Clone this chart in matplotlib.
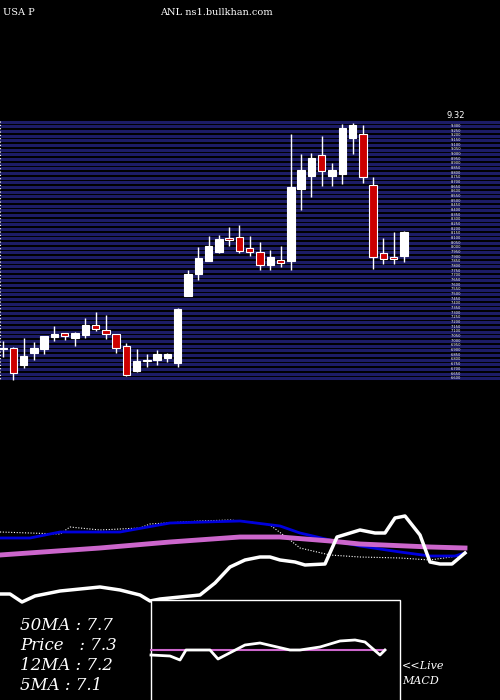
import matplotlib
matplotlib.use("Agg")
import matplotlib.pyplot as plt
import numpy as np

# candle readings (screen units: larger value = lower on the chart)
opens  = [349,348,365,353,349,337,333,338,335,325,330,334,346,371,361,360,358,363,296,274,261,252,238,237,248,252,265,260,261,189,176,155,176,174,138,134,185,253,257,256]
closes = [348,373,356,348,336,334,336,333,325,329,334,348,375,361,360,354,354,309,274,258,246,239,240,251,252,265,257,263,187,170,158,171,170,128,125,177,257,259,259,232]
highs  = [341,347,338,342,336,326,333,332,318,312,315,334,343,349,354,350,353,308,270,247,236,235,227,225,236,242,250,246,134,154,153,136,163,124,123,125,177,238,232,231]
lows   = [357,380,368,360,354,341,340,346,338,331,339,353,376,372,367,365,362,367,296,280,261,253,246,253,256,270,270,267,270,210,197,186,186,184,154,183,269,264,264,262]

# indicator readings (lower panel units)
dot_x = [0,60,70,100,140,150,200,230,250,270,290,300,330,360,400,430,465]
dot_y = [532,534,527,530,528,524,521,520,522,525,540,548,555,557,558,560,555]
blue_x = [0,30,60,120,170,240,280,300,330,360,400,430,455,465]
blue_y = [538,538,532,532,523,521,526,533,540,546,552,556,556,553]
mag_x = [0,100,170,240,280,330,360,430,465]
mag_y = [555,548,542,537,537,541,544,547,548]
wh_x = [0,10,22,35,60,100,120,140,150,160,200,215,230,245,260,270,280,295,305,325,337,360,375,385,395,405,420,430,440,452,465]
wh_y = [594,594,602,596,591,587,590,595,601,599,595,583,567,560,557,557,560,562,565,564,537,530,533,533,518,516,535,562,564,564,553]
macd_x = [151,170,180,186,210,218,245,260,290,300,320,340,355,365,380,385]
macd_y = [655,656,660,650,650,659,645,643,650,650,647,641,640,642,655,650]
signal_y = 650

labels = ["50MA : 7.7", "Price   : 7.3", "12MA : 7.2", "5MA : 7.1"]

fig = plt.figure(figsize=(5, 7), dpi=100, facecolor="black")

# ---- candle panel
ax = fig.add_axes([0, 1 - 382/700, 1, 262/700], facecolor="black")
ax.set_xlim(-3/10.28, 497/10.28)
ax.set_ylim(382, 120)
for yy in np.arange(121.5, 381, 4.67):
    ax.axhline(yy, color="#1c1c66", lw=2.2, zorder=0)
for i in range(len(opens)):
    o, c, h, l = opens[i], closes[i], highs[i], lows[i]
    red = c > o  # close drawn below open -> falling candle
    ax.vlines(i, h, l, color="white", lw=1, zorder=2)
    top, bot = min(o, c), max(o, c)
    ax.bar(i, max(bot - top, 0.8), bottom=top, width=0.72,
           color="#cc0000" if red else "white", edgecolor="white", lw=0.8, zorder=3)
ax.vlines(-0.28, 121, 380, color="white", lw=0.8, linestyles=(0, (1, 2)))
ax.axis("off")
ax.text(447/10.28 - 0.3, 116, "9.32", color="white", fontsize=6, va="center", ha="left")
for k, yy in enumerate(np.arange(126, 380, 4.67)):
    ax.text(451/10.28 - 0.3, yy, "%.3f" % (9.3 - k*0.05), color="white", fontsize=2.6, va="center")

fig.text(0.006, 0.988, "USA P", color="white", fontsize=7, family="DejaVu Serif", va="top")
fig.text(0.32, 0.988, "ANL ns1.bullkhan.com", color="white", fontsize=7, family="DejaVu Serif", va="top")

# ---- lower panel
lx = fig.add_axes([0, 0, 1, 210/700], facecolor="black")
lx.set_xlim(0, 500)
lx.set_ylim(700, 490)
lx.axis("off")
lx.plot(dot_x, dot_y, color="white", lw=0.8, ls=(0, (1, 1.5)))
lx.plot(blue_x, blue_y, color="#0000dd", lw=2)
lx.plot(mag_x, mag_y, color="#cc66cc", lw=3.5)
lx.plot(wh_x, wh_y, color="white", lw=2.5)
lx.add_patch(plt.Rectangle((151, 600), 249, 101, fill=True, facecolor="black", edgecolor="white", lw=1, zorder=5))
lx.plot([151, 385], [signal_y, signal_y], color="#cc66cc", lw=1.5, zorder=6)
lx.plot(macd_x, macd_y, color="white", lw=2, zorder=7)
for k, t in enumerate(labels):
    lx.text(20, 625 + k*20, t, color="white", fontsize=12, style="italic",
            family="DejaVu Serif", va="center")
lx.text(402, 666, "<<Live", color="white", fontsize=8, style="italic", family="DejaVu Serif", va="center")
lx.text(402, 681, "MACD", color="white", fontsize=8, style="italic", family="DejaVu Serif", va="center")

fig.savefig("out.png", dpi=100, facecolor="black")
